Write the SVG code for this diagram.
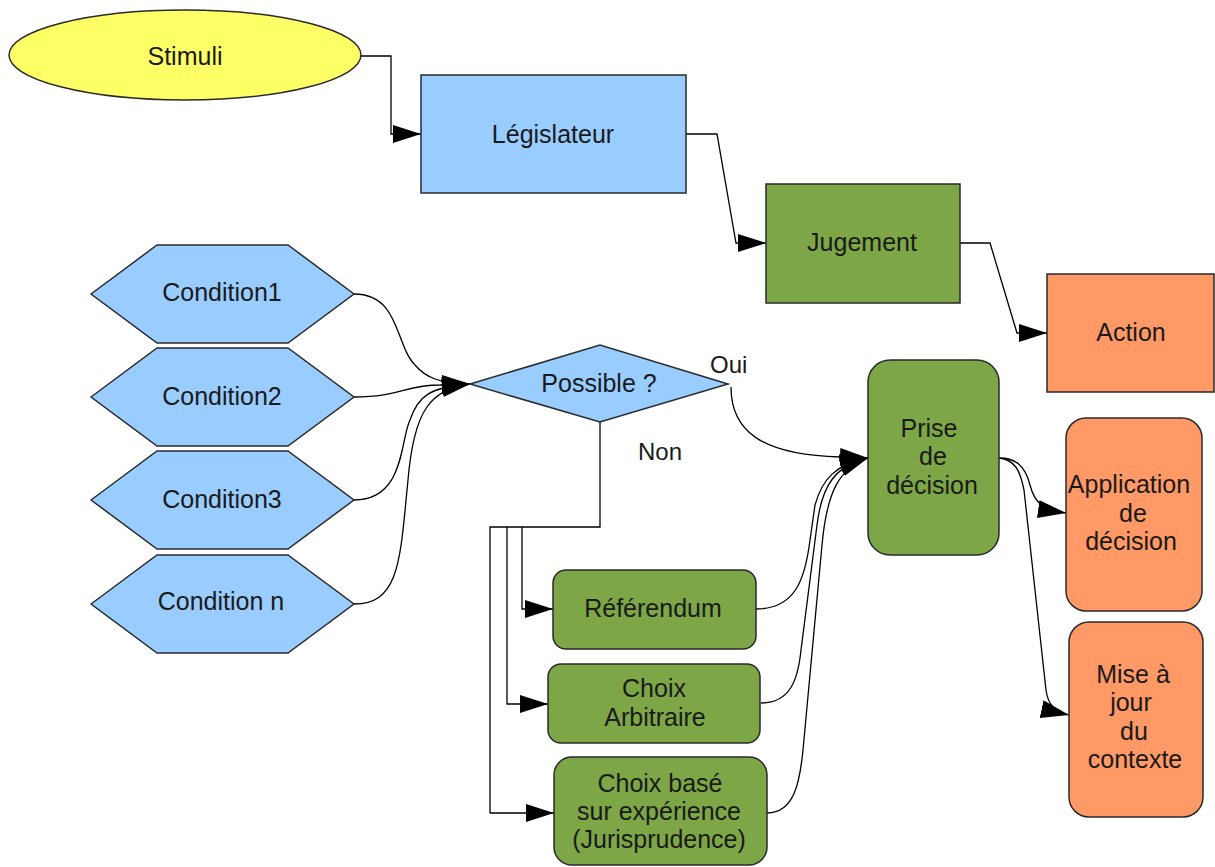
<svg xmlns="http://www.w3.org/2000/svg" width="1215" height="867" viewBox="0 0 1215 867">
<defs>
<marker id="ah" markerUnits="userSpaceOnUse" markerWidth="30" markerHeight="20" refX="28" refY="9" orient="auto"><polygon points="0,0 28,9 0,18" fill="#000"/></marker>
<style>
.t{font-family:"Liberation Sans",Arial,sans-serif;font-size:25px;fill:#1a1a1a;text-anchor:middle}
.l{font-family:"Liberation Sans",Arial,sans-serif;font-size:24px;fill:#1a1a1a}
.n{stroke:#2a2a2a;stroke-width:1.5}
.blue{fill:#99ccff}.green{fill:#7da647}.orange{fill:#ff9966}.yellow{fill:#ffff66}
.c{fill:none;stroke:#000;stroke-width:1.3;marker-end:url(#ah)}
.c0{fill:none;stroke:#000;stroke-width:1.3}
</style>
</defs>
<rect width="1215" height="867" fill="#fff"/>
<g id="connectors">
<path class="c" d="M360,56 H391 V134 H421"/>
<path class="c" d="M686,134 H717 L736,243 H766"/>
<path class="c" d="M960,243 H990 L1017,333 H1047"/>
<path class="c" d="M354,294 C400,294 395,345 415,365 C425,377 440,384 470,384"/>
<path class="c" d="M354,397 C400,397 405,385 440,385 L470,384"/>
<path class="c" d="M354,500 C405,500 400,440 410,420 C418,396 430,387 470,384"/>
<path class="c" d="M354,604 C400,604 400,560 408,480 C414,410 430,390 470,384"/>
<path class="c" d="M731,387 C731,430 760,455 840,457 L868,458"/>
<path class="c0" d="M600,422 V527 H490 V813"/>
<path class="c" d="M490,813 H554"/>
<path class="c" d="M507,527 V704 H548"/>
<path class="c" d="M522,527 V609 H553"/>
<path class="c" d="M756,609 C795,609 805,580 810,540 L815,505 C822,480 835,464 868,458"/>
<path class="c" d="M761,703 C790,703 798,680 801,650 L817,525 C822,485 835,466 868,458"/>
<path class="c" d="M767,813 C795,813 800,780 803,750 L822,545 C827,490 840,468 868,458"/>
<path class="c" d="M999,458 C1015,458 1025,465 1030,485 C1035,505 1045,510 1066,513"/>
<path class="c" d="M999,458 C1015,460 1020,470 1024,490 L1046,690 C1048,705 1055,712 1069,715"/>
</g>
<g id="stimuli"><ellipse class="n yellow" cx="185" cy="55" rx="176" ry="45"/><text class="t" x="185" y="65">Stimuli</text></g>
<g id="legislateur"><rect class="n blue" x="421" y="75" width="265" height="118"/><text class="t" x="553" y="143">Législateur</text></g>
<g id="jugement"><rect class="n green" x="766" y="184" width="194" height="119"/><text class="t" x="862" y="251">Jugement</text></g>
<g id="action"><rect class="n orange" x="1047" y="274" width="167" height="118"/><text class="t" x="1131" y="341">Action</text></g>
<g id="condition1"><polygon class="n blue" points="91,294 157,245 288,245 354,294 288,343 157,343"/><text class="t" x="222" y="301">Condition1</text></g>
<g id="condition2"><polygon class="n blue" points="91,397 157,348 288,348 354,397 288,446 157,446"/><text class="t" x="222" y="405">Condition2</text></g>
<g id="condition3"><polygon class="n blue" points="91,500 157,451 288,451 354,500 288,549 157,549"/><text class="t" x="222" y="508">Condition3</text></g>
<g id="conditionn"><polygon class="n blue" points="91,604 157,555 288,555 354,604 288,653 157,653"/><text class="t" x="221" y="610">Condition n</text></g>
<g id="possible"><polygon class="n blue" points="470,384 600,345 728,384 600,422"/><text class="t" x="599" y="392">Possible ?</text></g>
<g id="labels"><text class="l" x="710" y="373">Oui</text><text class="l" x="638" y="460">Non</text></g>
<g id="referendum"><rect class="n green" x="553" y="570" width="203" height="79" rx="13"/><text class="t" x="653" y="617">Référendum</text></g>
<g id="arbitraire"><rect class="n green" x="548" y="664" width="212" height="79" rx="13"/><text class="t" x="654" y="697">Choix</text><text class="t" x="655" y="726">Arbitraire</text></g>
<g id="experience"><rect class="n green" x="554" y="757" width="213" height="108" rx="18"/><text class="t" x="660" y="792">Choix basé</text><text class="t" x="659" y="820">sur expérience</text><text class="t" x="659" y="848">(Jurisprudence)</text></g>
<g id="prise"><rect class="n green" x="868" y="360" width="131" height="195" rx="22"/><text class="t" x="929" y="437">Prise</text><text class="t" x="933" y="465">de</text><text class="t" x="932" y="494">décision</text></g>
<g id="application"><rect class="n orange" x="1066" y="418" width="136" height="193" rx="20"/><text class="t" x="1129" y="493">Application</text><text class="t" x="1133" y="522">de</text><text class="t" x="1131" y="550">décision</text></g>
<g id="misejour"><rect class="n orange" x="1069" y="622" width="134" height="195" rx="20"/><text class="t" x="1133" y="683">Mise à</text><text class="t" x="1131" y="711">jour</text><text class="t" x="1134" y="740">du</text><text class="t" x="1135" y="768">contexte</text></g>
</svg>
